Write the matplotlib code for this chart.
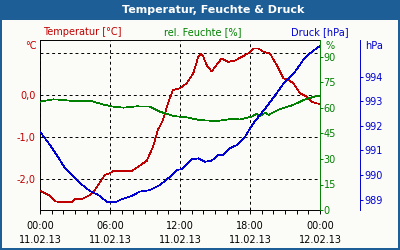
import matplotlib
matplotlib.use("Agg")
import matplotlib.pyplot as plt
from matplotlib.patches import Rectangle
from matplotlib.ticker import MultipleLocator

# time in hours since 11.02.13 00:00
t_temp = [0.0, 0.86, 1.37, 2.72, 3.0, 3.57, 4.29, 4.71, 5.29, 5.57, 6.0, 6.28,
          7.86, 8.4, 9.15, 9.69, 10.11, 10.54, 10.97, 11.4, 12.0, 12.57, 13.14,
          13.57, 13.77, 14.0, 14.29, 14.72, 15.0, 15.57, 16.14, 16.71, 17.29,
          17.85, 18.28, 18.71, 19.14, 19.71, 20.29, 20.85, 21.28, 21.71, 22.29,
          22.86, 23.29, 23.71, 24.0]
temp = [-2.28, -2.40, -2.54, -2.55, -2.48, -2.48, -2.38, -2.26, -2.02, -1.90,
        -1.86, -1.81, -1.81, -1.71, -1.57, -1.23, -0.83, -0.60, -0.20, 0.12,
        0.16, 0.28, 0.52, 0.91, 0.98, 0.91, 0.71, 0.56, 0.67, 0.87, 0.79, 0.82,
        0.91, 0.99, 1.11, 1.11, 1.03, 0.99, 0.71, 0.40, 0.36, 0.28, 0.04, -0.04,
        -0.16, -0.20, -0.21]

t_hum = [0.0, 1.14, 2.0, 2.86, 4.29, 5.57, 6.28, 7.14, 8.29, 9.43, 10.29, 11.43,
         12.57, 13.71, 15.14, 16.29, 17.14, 18.14, 18.57, 18.8, 19.29, 19.6,
         20.57, 21.71, 22.57, 23.71, 24.0]
hum = [63.7, 65.1, 64.7, 64.1, 64.3, 61.8, 60.8, 60.2, 61.0, 60.8, 57.8, 55.3,
       54.5, 52.9, 52.3, 53.5, 53.3, 54.9, 56.5, 55.0, 57.2, 56.0, 59.4, 61.8,
       64.7, 67.1, 67.0]

t_pres = [0.0, 0.86, 1.43, 2.14, 2.72, 3.43, 4.29, 5.0, 5.72, 6.43, 7.0, 7.86,
          8.57, 9.43, 10.29, 11.14, 11.71, 12.14, 13.0, 13.57, 14.14, 14.72,
          15.29, 15.72, 16.29, 16.86, 17.57, 18.28, 19.43, 20.29, 21.0, 21.86,
          22.57, 23.14, 23.71, 24.0]
pres = [991.76, 991.22, 990.82, 990.28, 990.0, 989.67, 989.35, 989.19, 988.92,
        988.89, 989.02, 989.15, 989.33, 989.39, 989.60, 989.93, 990.21, 990.24,
        990.64, 990.68, 990.54, 990.59, 990.82, 990.82, 991.09, 991.22, 991.56,
        992.1, 992.78, 993.33, 993.8, 994.2, 994.68, 994.95, 995.15, 995.25]

x_ticks = [0, 6, 12, 18, 24]
x_labels = ["00:00\n11.02.13", "06:00\n11.02.13", "12:00\n11.02.13",
            "18:00\n11.02.13", "00:00\n12.02.13"]
temp_ticks = [-2, -1, 0, 1]
temp_labels = ["-2,0", "-1,0", "0,0", ""]
hum_ticks = [0, 15, 30, 45, 60, 75, 90]
pres_ticks = [989, 990, 991, 992, 993, 994]

RED = '#c00000'
GREEN = '#008000'
BLUE = '#0000d0'
FRAME = '#1d5e96'
BG = '#fbfcf8'
FS = 7
LW = 0.7
DATA_LW = 0.5

fig = plt.figure(figsize=(4, 2.5), dpi=100, facecolor=BG)
ax = fig.add_axes([0.1, 0.16, 0.7, 0.68])
ax.set_facecolor(BG)
ax2 = ax.twinx()
ax3 = ax.twinx()
ax3.spines['right'].set_position(('axes', 320 / 280))

ax.plot(t_temp, temp, color=RED, lw=DATA_LW, antialiased=False, zorder=3)
ax2.plot(t_hum, hum, color=GREEN, lw=DATA_LW, antialiased=False)
ax3.plot(t_pres, pres, color=BLUE, lw=DATA_LW, antialiased=False)

ax.set_xlim(0, 24)
ax.set_ylim(-2.74, 1.31)
ax2.set_ylim(0, 100)
ax3.set_ylim(988.58, 995.49)

# temperature axis
ax.set_yticks(temp_ticks)
ax.set_yticklabels(temp_labels)
ax.tick_params(axis='y', length=0, labelcolor=RED, labelsize=FS, pad=3)
ax.set_xticks(x_ticks)
ax.set_xticklabels(x_labels, linespacing=1.45)
ax.xaxis.set_minor_locator(MultipleLocator(1))
ax.tick_params(axis='x', which='both', length=3, width=LW, labelsize=FS, pad=5)
ax.grid(True, color='black', ls=(0, (3, 3)), lw=LW)
for s in ['left', 'top', 'bottom']:
    ax.spines[s].set_linewidth(LW)
ax.spines['right'].set_visible(False)

# humidity axis
ax2.set_yticks(hum_ticks)
ax2.tick_params(axis='y', length=2, width=LW, color=GREEN, labelcolor=GREEN,
                labelsize=FS, pad=0.5)
for s in ['left', 'top', 'bottom']:
    ax2.spines[s].set_visible(False)
ax2.spines['right'].set_color(GREEN)
ax2.spines['right'].set_linewidth(LW)

# pressure axis
ax3.set_yticks(pres_ticks)
ax3.yaxis.get_major_formatter().set_useOffset(False)
ax3.tick_params(axis='y', length=2, width=LW, color=BLUE, labelcolor=BLUE,
                labelsize=FS, pad=1.5)
for s in ['left', 'top', 'bottom']:
    ax3.spines[s].set_visible(False)
ax3.spines['right'].set_color(BLUE)
ax3.spines['right'].set_linewidth(LW)

# unit labels
fig.text(36.5 / 400, 1 - 46 / 250, "°C", color=RED, fontsize=FS, ha='right', va='center')
fig.text(325 / 400, 1 - 46 / 250, "%", color=GREEN, fontsize=FS, ha='left', va='center')
fig.text(365 / 400, 1 - 46 / 250, "hPa", color=BLUE, fontsize=FS, ha='left', va='center')

# series headers
fig.text(82 / 400, 1 - 32 / 250, "Temperatur [°C]", color=RED, fontsize=FS, ha='center', va='center')
fig.text(203 / 400, 1 - 32 / 250, "rel. Feuchte [%]", color=GREEN, fontsize=FS, ha='center', va='center')
fig.text(320 / 400, 1 - 32 / 250, "Druck [hPa]", color=BLUE, fontsize=FS, ha='center', va='center')

# title bar and frame
fig.patches.append(Rectangle((0, 1 - 20 / 250), 1, 20 / 250, transform=fig.transFigure,
                             facecolor=FRAME, edgecolor='none', zorder=-1))
fig.patches.append(Rectangle((0, 0), 2 / 400, 1, transform=fig.transFigure,
                             facecolor=FRAME, edgecolor='none'))
fig.patches.append(Rectangle((1 - 2 / 400, 0), 2 / 400, 1, transform=fig.transFigure,
                             facecolor=FRAME, edgecolor='none'))
fig.patches.append(Rectangle((0, 0), 1, 2 / 250, transform=fig.transFigure,
                             facecolor=FRAME, edgecolor='none'))
fig.text(213 / 400, 1 - 10 / 250, "Temperatur, Feuchte & Druck", color='white',
         fontsize=8, fontweight='bold', ha='center', va='center')

fig.savefig("out.png", dpi=100, facecolor=BG)
